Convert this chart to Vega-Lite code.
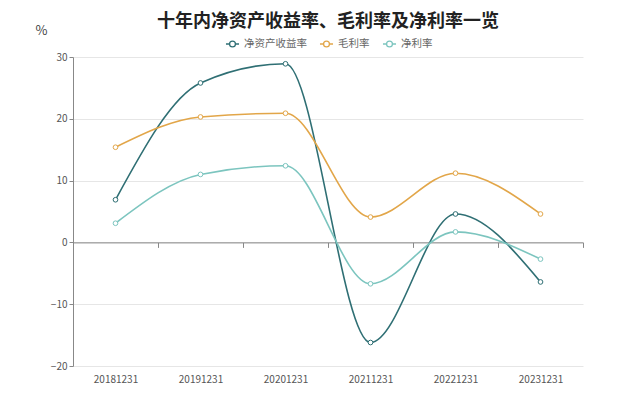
{
  "$schema": "https://vega.github.io/schema/vega-lite/v6.json",
  "autosize": "none",
  "width": 510,
  "height": 309,
  "padding": {"left": 73, "top": 57, "right": 57, "bottom": 31},
  "background": "white",
  "title": {
    "text": "十年内净资产收益率、毛利率及净利率一览",
    "fontSize": 18,
    "fontWeight": "bold",
    "font": "Noto Sans CJK SC",
    "color": "#222222",
    "anchor": "middle",
    "offset": -7
  },
  "data": {
    "values": [
      {"date": "20181231", "series": "净资产收益率", "value": 6.9},
      {"date": "20191231", "series": "净资产收益率", "value": 25.8},
      {"date": "20201231", "series": "净资产收益率", "value": 28.9},
      {"date": "20211231", "series": "净资产收益率", "value": -16.2},
      {"date": "20221231", "series": "净资产收益率", "value": 4.6},
      {"date": "20231231", "series": "净资产收益率", "value": -6.4},
      {"date": "20181231", "series": "毛利率", "value": 15.4},
      {"date": "20191231", "series": "毛利率", "value": 20.3},
      {"date": "20201231", "series": "毛利率", "value": 20.9},
      {"date": "20211231", "series": "毛利率", "value": 4.1},
      {"date": "20221231", "series": "毛利率", "value": 11.2},
      {"date": "20231231", "series": "毛利率", "value": 4.6},
      {"date": "20181231", "series": "净利率", "value": 3.1},
      {"date": "20191231", "series": "净利率", "value": 11.0},
      {"date": "20201231", "series": "净利率", "value": 12.4},
      {"date": "20211231", "series": "净利率", "value": -6.7},
      {"date": "20221231", "series": "净利率", "value": 1.7},
      {"date": "20231231", "series": "净利率", "value": -2.7}
    ]
  },
  "encoding": {
    "x": {
      "field": "date",
      "type": "nominal",
      "sort": null,
      "title": null,
      "scale": {"paddingInner": 0, "paddingOuter": 0},
      "axis": {
        "offset": -123.6,
        "domainColor": "#888888",
        "tickColor": "#888888",
        "tickSize": 5,
        "tickBand": "extent",
        "labelPadding": 127,
        "labelAngle": 0,
        "labelFont": "Noto Sans CJK SC",
        "labelFontSize": 10,
        "labelColor": "#555555",
        "grid": false
      }
    },
    "y": {
      "field": "value",
      "type": "quantitative",
      "scale": {"domain": [-20, 30], "nice": false},
      "axis": {
        "values": [-20, -10, 0, 10, 20, 30],
        "title": "%",
        "titleAngle": 0,
        "titleX": -38,
        "titleY": -20,
        "titleAlign": "left",
        "titleFontSize": 13,
        "titleFontWeight": "normal",
        "titleColor": "#444444",
        "titleFont": "Noto Sans CJK SC",
        "domainColor": "#888888",
        "tickColor": "#888888",
        "tickSize": 4,
        "labelFontSize": 10,
        "labelColor": "#555555",
        "labelFont": "Noto Sans CJK SC",
        "gridColor": "#e6e6e6"
      }
    },
    "color": {
      "field": "series",
      "type": "nominal",
      "sort": ["净资产收益率", "毛利率", "净利率"],
      "scale": {"domain": ["净资产收益率", "毛利率", "净利率"], "range": ["#2f6f74", "#e2a649", "#7cc5bf"]},
      "legend": {
        "title": null,
        "orient": "none",
        "direction": "horizontal",
        "legendX": 152,
        "legendY": -21,
        "labelFont": "Noto Sans CJK SC",
        "labelFontSize": 10.5,
        "labelColor": "#666666",
        "symbolType": "M-1,0L-0.45,0M0.45,0L1,0M-0.45,0A0.45,0.45 0 1 1 0.45,0A0.45,0.45 0 1 1 -0.45,0Z",
        "symbolSize": 170,
        "symbolStrokeWidth": 1.3,
        "symbolFillColor": "white",
        "columnPadding": 10,
        "labelOffset": 4
      }
    }
  },
  "layer": [
    {"mark": {"type": "line", "interpolate": "monotone", "strokeWidth": 1.6}},
    {"mark": {"type": "point", "filled": false, "fill": "white", "fillOpacity": 1, "size": 22, "strokeWidth": 1, "opacity": 1}}
  ],
  "config": {"view": {"stroke": null}}
}
